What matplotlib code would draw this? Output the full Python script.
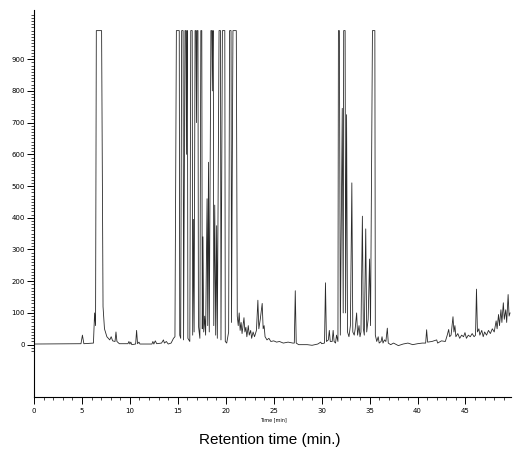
import numpy as np
import matplotlib.pyplot as plt
from matplotlib.ticker import MultipleLocator, FixedLocator

# Trazado del cromatograma: (tiempo [min], senal)
trace_early = [
    (0, 2), (4.9, 3), (5.05, 30), (5.2, 3), (6.2, 5), (6.32, 100), (6.42, 60),
    (6.5, 990), (7.05, 990), (7.2, 120), (7.35, 50), (7.6, 25), (7.9, 15),
    (8.05, 25), (8.2, 12), (8.45, 10), (8.55, 40), (8.65, 10), (8.9, 3),
    (9.8, 3), (9.9, 10), (10.0, 2), (10.1, 8), (10.2, 0), (10.6, 2), (10.7, 45),
    (10.8, 3), (10.95, 8), (11.05, 2), (12.3, 2), (12.4, 10), (12.5, 2),
    (12.65, 12), (12.8, 3), (13.3, 5), (13.5, 15), (13.6, 5), (13.8, 10),
    (14.0, 2), (14.3, 5), (14.55, 20), (14.7, 25),
]
trace_main = [
    (14.85, 990), (15.15, 990), (15.2, 30), (15.3, 20), (15.4, 990), (15.55, 990),
    (15.6, 15), (15.75, 990), (15.85, 990), (15.9, 600), (15.95, 990), (16.0, 990),
    (16.05, 20), (16.25, 10), (16.35, 990), (16.5, 990), (16.55, 30), (16.62, 395),
    (16.7, 40), (16.8, 990), (16.9, 990), (16.95, 700), (17.0, 990), (17.1, 990),
    (17.15, 60), (17.3, 20), (17.4, 990), (17.5, 990), (17.55, 50), (17.62, 340),
    (17.7, 40), (17.8, 90), (17.9, 30), (18.05, 460), (18.12, 60), (18.2, 575),
    (18.28, 40), (18.45, 990), (18.55, 990), (18.6, 800), (18.65, 990), (18.7, 990),
    (18.75, 60), (18.85, 440), (18.95, 30), (19.05, 375), (19.12, 20), (19.3, 990),
    (19.45, 990), (19.5, 15), (19.65, 990), (19.9, 990), (19.95, 10), (20.1, 5),
    (20.3, 40), (20.4, 990), (20.55, 990), (20.6, 70), (20.75, 990), (21.1, 990),
    (21.2, 90), (21.3, 60), (21.4, 100), (21.5, 45),
]
trace_mid = [
    (21.6, 70), (21.7, 35), (21.9, 85), (22.0, 40), (22.1, 55), (22.2, 25),
    (22.35, 60), (22.45, 30), (22.6, 45), (22.7, 20), (22.85, 40), (23.0, 25),
    (23.2, 45), (23.35, 140), (23.45, 50), (23.6, 80), (23.8, 130), (23.9, 50),
    (24.0, 60), (24.1, 25), (24.3, 15), (24.5, 20), (24.7, 10), (25.0, 12),
    (25.3, 8), (25.6, 10), (26.0, 5), (26.5, 8), (27.0, 5), (27.15, 5),
    (27.25, 170), (27.35, 5), (27.6, 0), (28.5, 0), (29.0, -2), (29.6, 2),
    (29.9, 8), (30.0, 3),
]
trace_cluster = [
    (30.3, 5), (30.4, 195), (30.5, 10), (30.7, 15), (30.8, 45), (30.9, 10),
    (31.1, 10), (31.2, 45), (31.3, 10), (31.45, 5), (31.55, 30), (31.7, 10),
    (31.75, 990), (31.85, 990), (31.95, 30), (32.15, 745), (32.25, 100),
    (32.3, 990), (32.45, 990), (32.5, 100), (32.6, 725), (32.7, 40), (32.85, 25),
    (33.0, 60), (33.15, 510), (33.25, 40), (33.4, 30), (33.5, 50), (33.65, 100),
    (33.75, 30), (33.9, 60), (34.0, 25), (34.1, 40), (34.25, 405), (34.35, 50),
    (34.45, 30), (34.6, 365), (34.7, 40), (34.85, 80), (35.0, 270), (35.1, 60),
    (35.3, 990), (35.55, 990), (35.6, 30), (35.75, 10), (35.9, 25), (36.0, 5),
    (36.2, 10), (36.3, 25), (36.4, 5), (36.55, 15), (36.7, 10), (36.85, 52),
    (36.95, 5),
]
trace_late = [
    (37.2, 0), (37.5, 5), (38.0, -3), (38.5, 2), (39.0, 5), (39.5, 0), (40.0, 3),
    (40.5, 5), (40.85, 5), (40.95, 47), (41.05, 8), (41.5, 10), (42.0, 15),
    (42.1, 5), (42.5, 12), (42.9, 10), (43.1, 30), (43.25, 48), (43.35, 25),
    (43.5, 30), (43.7, 88), (43.8, 40), (43.9, 60), (44.0, 25), (44.2, 35),
    (44.4, 20), (44.6, 30), (44.8, 25), (44.95, 38), (45.1, 20), (45.3, 30),
    (45.5, 25), (45.7, 35), (45.9, 25), (46.05, 30), (46.15, 175), (46.25, 40),
    (46.4, 50), (46.5, 30), (46.7, 45), (46.85, 25), (47.0, 40), (47.2, 30),
    (47.4, 45), (47.6, 35), (47.8, 50), (48.0, 40), (48.2, 75), (48.3, 50),
    (48.45, 95), (48.55, 60), (48.7, 110), (48.8, 70), (48.95, 132), (49.05, 80),
    (49.2, 110), (49.3, 70), (49.45, 158), (49.55, 90), (49.65, 100),
]

y_tick_values = [0, 100, 200, 300, 400, 500, 600, 700, 800, 900]
x_tick_values = [0, 5, 10, 15, 20, 25, 30, 35, 40, 45]

tiempo, senal = np.array(trace_early + trace_main + trace_mid + trace_cluster + trace_late).T

fig = plt.figure(figsize=(5.13, 4.62), dpi=100)
ax = fig.add_axes([34 / 513, 65 / 462, 477 / 513, 387 / 462])
ax.plot(tiempo, senal, '-', lw=0.6, color='#2a2a2a')

ax.set_xlim(0, 49.75)
ax.set_ylim(-165, 1055)
ax.spines['top'].set_visible(False)
ax.spines['right'].set_visible(False)
ax.spines['left'].set_linewidth(0.8)
ax.spines['bottom'].set_linewidth(0.8)

ax.yaxis.set_major_locator(FixedLocator(y_tick_values))
ax.yaxis.set_minor_locator(FixedLocator(np.arange(-20, 1041, 10)))
ax.xaxis.set_major_locator(FixedLocator(x_tick_values))
ax.xaxis.set_minor_locator(MultipleLocator(1))
ax.tick_params(axis='both', which='major', length=5, width=0.7, labelsize=5, pad=1.5)
ax.tick_params(axis='x', which='major', pad=3)
ax.tick_params(axis='both', which='minor', length=2.5, width=0.5)

ax.text(25, -238, "Time [min]", ha='center', va='center', fontsize=3.5)
fig.text(0.526, 0.048, "Retention time (min.)", ha='center', va='center',
         fontsize=11, family=['Liberation Sans', 'DejaVu Sans'])

fig.savefig("out.png", dpi=100)
